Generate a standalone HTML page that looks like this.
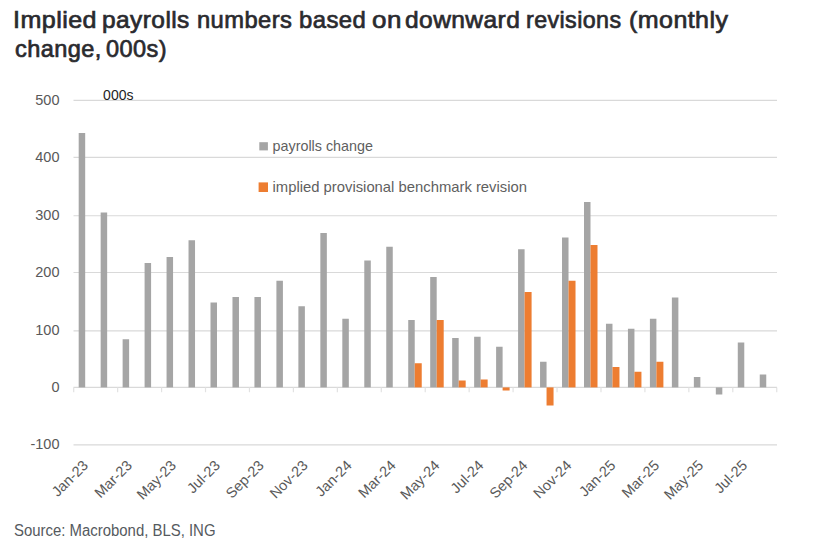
<!DOCTYPE html>
<html><head><meta charset="utf-8"><style>
html,body{margin:0;padding:0;background:#fff;}
body{width:819px;height:559px;overflow:hidden;position:relative;font-family:"Liberation Sans",sans-serif;}
.w{position:absolute;margin:0;transform-origin:0 0;font-weight:normal;-webkit-text-stroke:0.7px #2a2a2e;color:#2a2a2e;font-size:24px;letter-spacing:0.42px;line-height:28.4px;white-space:nowrap;}
.src{font-size:17.3px;fill:#555a5e;}
svg{position:absolute;left:0;top:0;}
.ax{font-size:14.5px;fill:#595959;}
.xl{font-size:14.5px;fill:#595959;}
.lg{font-size:14.6px;fill:#5f5f5f;}
.u{font-size:14px;fill:#1e1e1e;}
</style></head><body>
<span class="w" style="left:12.56px;top:6px;transform:scaleX(1.0461)">Implied</span><span class="w" style="left:101.58px;top:6px;transform:scaleX(1.0200)">payrolls</span><span class="w" style="left:196.71px;top:6px;transform:scaleX(0.9895)">numbers</span><span class="w" style="left:298.5px;top:6px;transform:scaleX(0.9954)">based</span><span class="w" style="left:371.6px;top:6px;transform:scaleX(1.0808)">on</span><span class="w" style="left:404.9px;top:6px;transform:scaleX(1.0223)">downward</span><span class="w" style="left:526.13px;top:6px;transform:scaleX(0.9691)">revisions</span><span class="w" style="left:628.86px;top:6px;transform:scaleX(1.0421)">(monthly</span><span class="w" style="left:14.65px;top:34.6px;transform:scaleX(0.9810)">change,</span><span class="w" style="left:106.2px;top:34.6px;transform:scaleX(0.9803)">000s)</span>
<svg width="819" height="559" viewBox="0 0 819 559" font-family="Liberation Sans, sans-serif">
<line x1="73.5" x2="777" y1="100.35" y2="100.35" stroke="#d9d9d9" stroke-width="1.15"/>
<line x1="73.5" x2="777" y1="157.35" y2="157.35" stroke="#d9d9d9" stroke-width="1.15"/>
<line x1="73.5" x2="777" y1="215.75" y2="215.75" stroke="#d9d9d9" stroke-width="1.15"/>
<line x1="73.5" x2="777" y1="272.5" y2="272.5" stroke="#d9d9d9" stroke-width="1.15"/>
<line x1="73.5" x2="777" y1="330.8" y2="330.8" stroke="#d9d9d9" stroke-width="1.15"/>
<line x1="73.5" x2="777" y1="444.84" y2="444.84" stroke="#d9d9d9" stroke-width="1.15"/>
<text x="59.5" y="105.2" text-anchor="end" class="ax">500</text>
<text x="59.5" y="162.2" text-anchor="end" class="ax">400</text>
<text x="59.5" y="220" text-anchor="end" class="ax">300</text>
<text x="59.5" y="277.1" text-anchor="end" class="ax">200</text>
<text x="59.5" y="335.2" text-anchor="end" class="ax">100</text>
<text x="59.5" y="392.3" text-anchor="end" class="ax">0</text>
<text x="59.5" y="449.1" text-anchor="end" class="ax">-100</text>
<line x1="73.5" x2="777" y1="387.4" y2="387.4" stroke="#d9d9d9" stroke-width="1.15"/>
<line x1="73.7" x2="73.7" y1="387.4" y2="392.2" stroke="#e2e2e2" stroke-width="1.2"/>
<line x1="117.64" x2="117.64" y1="387.4" y2="392.2" stroke="#e2e2e2" stroke-width="1.2"/>
<line x1="161.58" x2="161.58" y1="387.4" y2="392.2" stroke="#e2e2e2" stroke-width="1.2"/>
<line x1="205.52" x2="205.52" y1="387.4" y2="392.2" stroke="#e2e2e2" stroke-width="1.2"/>
<line x1="249.46" x2="249.46" y1="387.4" y2="392.2" stroke="#e2e2e2" stroke-width="1.2"/>
<line x1="293.4" x2="293.4" y1="387.4" y2="392.2" stroke="#e2e2e2" stroke-width="1.2"/>
<line x1="337.34" x2="337.34" y1="387.4" y2="392.2" stroke="#e2e2e2" stroke-width="1.2"/>
<line x1="381.28" x2="381.28" y1="387.4" y2="392.2" stroke="#e2e2e2" stroke-width="1.2"/>
<line x1="425.22" x2="425.22" y1="387.4" y2="392.2" stroke="#e2e2e2" stroke-width="1.2"/>
<line x1="469.16" x2="469.16" y1="387.4" y2="392.2" stroke="#e2e2e2" stroke-width="1.2"/>
<line x1="513.1" x2="513.1" y1="387.4" y2="392.2" stroke="#e2e2e2" stroke-width="1.2"/>
<line x1="557.04" x2="557.04" y1="387.4" y2="392.2" stroke="#e2e2e2" stroke-width="1.2"/>
<line x1="600.98" x2="600.98" y1="387.4" y2="392.2" stroke="#e2e2e2" stroke-width="1.2"/>
<line x1="644.92" x2="644.92" y1="387.4" y2="392.2" stroke="#e2e2e2" stroke-width="1.2"/>
<line x1="688.86" x2="688.86" y1="387.4" y2="392.2" stroke="#e2e2e2" stroke-width="1.2"/>
<line x1="732.8" x2="732.8" y1="387.4" y2="392.2" stroke="#e2e2e2" stroke-width="1.2"/>
<line x1="776.74" x2="776.74" y1="387.4" y2="392.2" stroke="#e2e2e2" stroke-width="1.2"/>
<rect x="78.69" y="133" width="6.5" height="254.4" fill="#a5a5a5"/>
<rect x="100.66" y="212.5" width="6.5" height="174.9" fill="#a5a5a5"/>
<rect x="122.62" y="339.25" width="6.5" height="48.15" fill="#a5a5a5"/>
<rect x="144.59" y="263" width="6.5" height="124.4" fill="#a5a5a5"/>
<rect x="166.56" y="257" width="6.5" height="130.4" fill="#a5a5a5"/>
<rect x="188.53" y="240.25" width="6.5" height="147.15" fill="#a5a5a5"/>
<rect x="210.5" y="302.5" width="6.5" height="84.9" fill="#a5a5a5"/>
<rect x="232.47" y="297" width="6.5" height="90.4" fill="#a5a5a5"/>
<rect x="254.44" y="297" width="6.5" height="90.4" fill="#a5a5a5"/>
<rect x="276.41" y="280.75" width="6.5" height="106.65" fill="#a5a5a5"/>
<rect x="298.38" y="306.25" width="6.5" height="81.15" fill="#a5a5a5"/>
<rect x="320.35" y="233" width="6.5" height="154.4" fill="#a5a5a5"/>
<rect x="342.32" y="318.75" width="6.5" height="68.65" fill="#a5a5a5"/>
<rect x="364.29" y="260.5" width="6.5" height="126.9" fill="#a5a5a5"/>
<rect x="386.26" y="246.75" width="6.5" height="140.65" fill="#a5a5a5"/>
<rect x="408.23" y="320" width="6.5" height="67.4" fill="#a5a5a5"/>
<rect x="430.2" y="277" width="6.5" height="110.4" fill="#a5a5a5"/>
<rect x="452.17" y="338" width="6.5" height="49.4" fill="#a5a5a5"/>
<rect x="474.14" y="336.75" width="6.5" height="50.65" fill="#a5a5a5"/>
<rect x="496.11" y="346.75" width="6.5" height="40.65" fill="#a5a5a5"/>
<rect x="518.09" y="249.25" width="6.5" height="138.15" fill="#a5a5a5"/>
<rect x="540.05" y="361.75" width="6.5" height="25.65" fill="#a5a5a5"/>
<rect x="562.02" y="237.5" width="6.5" height="149.9" fill="#a5a5a5"/>
<rect x="584" y="202" width="6.5" height="185.4" fill="#a5a5a5"/>
<rect x="605.97" y="323.75" width="6.5" height="63.65" fill="#a5a5a5"/>
<rect x="627.94" y="328.75" width="6.5" height="58.65" fill="#a5a5a5"/>
<rect x="649.9" y="318.75" width="6.5" height="68.65" fill="#a5a5a5"/>
<rect x="671.88" y="297.5" width="6.5" height="89.9" fill="#a5a5a5"/>
<rect x="693.85" y="377" width="6.5" height="10.4" fill="#a5a5a5"/>
<rect x="715.82" y="387.4" width="6.5" height="7.1" fill="#a5a5a5"/>
<rect x="737.78" y="342.5" width="6.5" height="44.9" fill="#a5a5a5"/>
<rect x="759.75" y="374.5" width="6.5" height="12.9" fill="#a5a5a5"/>
<rect x="414.73" y="363.25" width="7" height="24.15" fill="#ed7d31"/>
<rect x="436.7" y="320" width="7" height="67.4" fill="#ed7d31"/>
<rect x="458.67" y="380.5" width="7" height="6.9" fill="#ed7d31"/>
<rect x="480.64" y="379.5" width="7" height="7.9" fill="#ed7d31"/>
<rect x="502.61" y="387.4" width="7" height="3.1" fill="#ed7d31"/>
<rect x="524.59" y="292" width="7" height="95.4" fill="#ed7d31"/>
<rect x="546.55" y="387.4" width="7" height="18.1" fill="#ed7d31"/>
<rect x="568.52" y="280.75" width="7" height="106.65" fill="#ed7d31"/>
<rect x="590.5" y="245" width="7" height="142.4" fill="#ed7d31"/>
<rect x="612.47" y="367" width="7" height="20.4" fill="#ed7d31"/>
<rect x="634.44" y="371.75" width="7" height="15.65" fill="#ed7d31"/>
<rect x="656.4" y="361.75" width="7" height="25.65" fill="#ed7d31"/>
<text transform="translate(82.69,459.9) rotate(-45)" text-anchor="end" class="xl" x="0" y="9">Jan-23</text>
<text transform="translate(126.62,459.9) rotate(-45)" text-anchor="end" class="xl" x="0" y="9">Mar-23</text>
<text transform="translate(170.56,459.9) rotate(-45)" text-anchor="end" class="xl" x="0" y="9">May-23</text>
<text transform="translate(214.5,459.9) rotate(-45)" text-anchor="end" class="xl" x="0" y="9">Jul-23</text>
<text transform="translate(258.44,459.9) rotate(-45)" text-anchor="end" class="xl" x="0" y="9">Sep-23</text>
<text transform="translate(302.38,459.9) rotate(-45)" text-anchor="end" class="xl" x="0" y="9">Nov-23</text>
<text transform="translate(346.32,459.9) rotate(-45)" text-anchor="end" class="xl" x="0" y="9">Jan-24</text>
<text transform="translate(390.26,459.9) rotate(-45)" text-anchor="end" class="xl" x="0" y="9">Mar-24</text>
<text transform="translate(434.2,459.9) rotate(-45)" text-anchor="end" class="xl" x="0" y="9">May-24</text>
<text transform="translate(478.14,459.9) rotate(-45)" text-anchor="end" class="xl" x="0" y="9">Jul-24</text>
<text transform="translate(522.09,459.9) rotate(-45)" text-anchor="end" class="xl" x="0" y="9">Sep-24</text>
<text transform="translate(566.02,459.9) rotate(-45)" text-anchor="end" class="xl" x="0" y="9">Nov-24</text>
<text transform="translate(609.97,459.9) rotate(-45)" text-anchor="end" class="xl" x="0" y="9">Jan-25</text>
<text transform="translate(653.9,459.9) rotate(-45)" text-anchor="end" class="xl" x="0" y="9">Mar-25</text>
<text transform="translate(697.85,459.9) rotate(-45)" text-anchor="end" class="xl" x="0" y="9">May-25</text>
<text transform="translate(741.78,459.9) rotate(-45)" text-anchor="end" class="xl" x="0" y="9">Jul-25</text>
<rect x="259.3" y="142.2" width="8.6" height="8.2" fill="#a5a5a5"/>
<text x="272.5" y="150.5" class="lg" id="lg1" textLength="100.5" lengthAdjust="spacingAndGlyphs">payrolls change</text>
<rect x="258.6" y="182.4" width="9.4" height="9.6" fill="#ed7d31"/>
<text x="272.5" y="192" class="lg" id="lg2" textLength="254.5" lengthAdjust="spacingAndGlyphs">implied provisional benchmark revision</text>
<text x="14" y="536" class="src" id="src" textLength="201.5" lengthAdjust="spacingAndGlyphs">Source: Macrobond, BLS, ING</text>
<text x="103.1" y="100" class="u">000s</text>
</svg>
</body></html>
